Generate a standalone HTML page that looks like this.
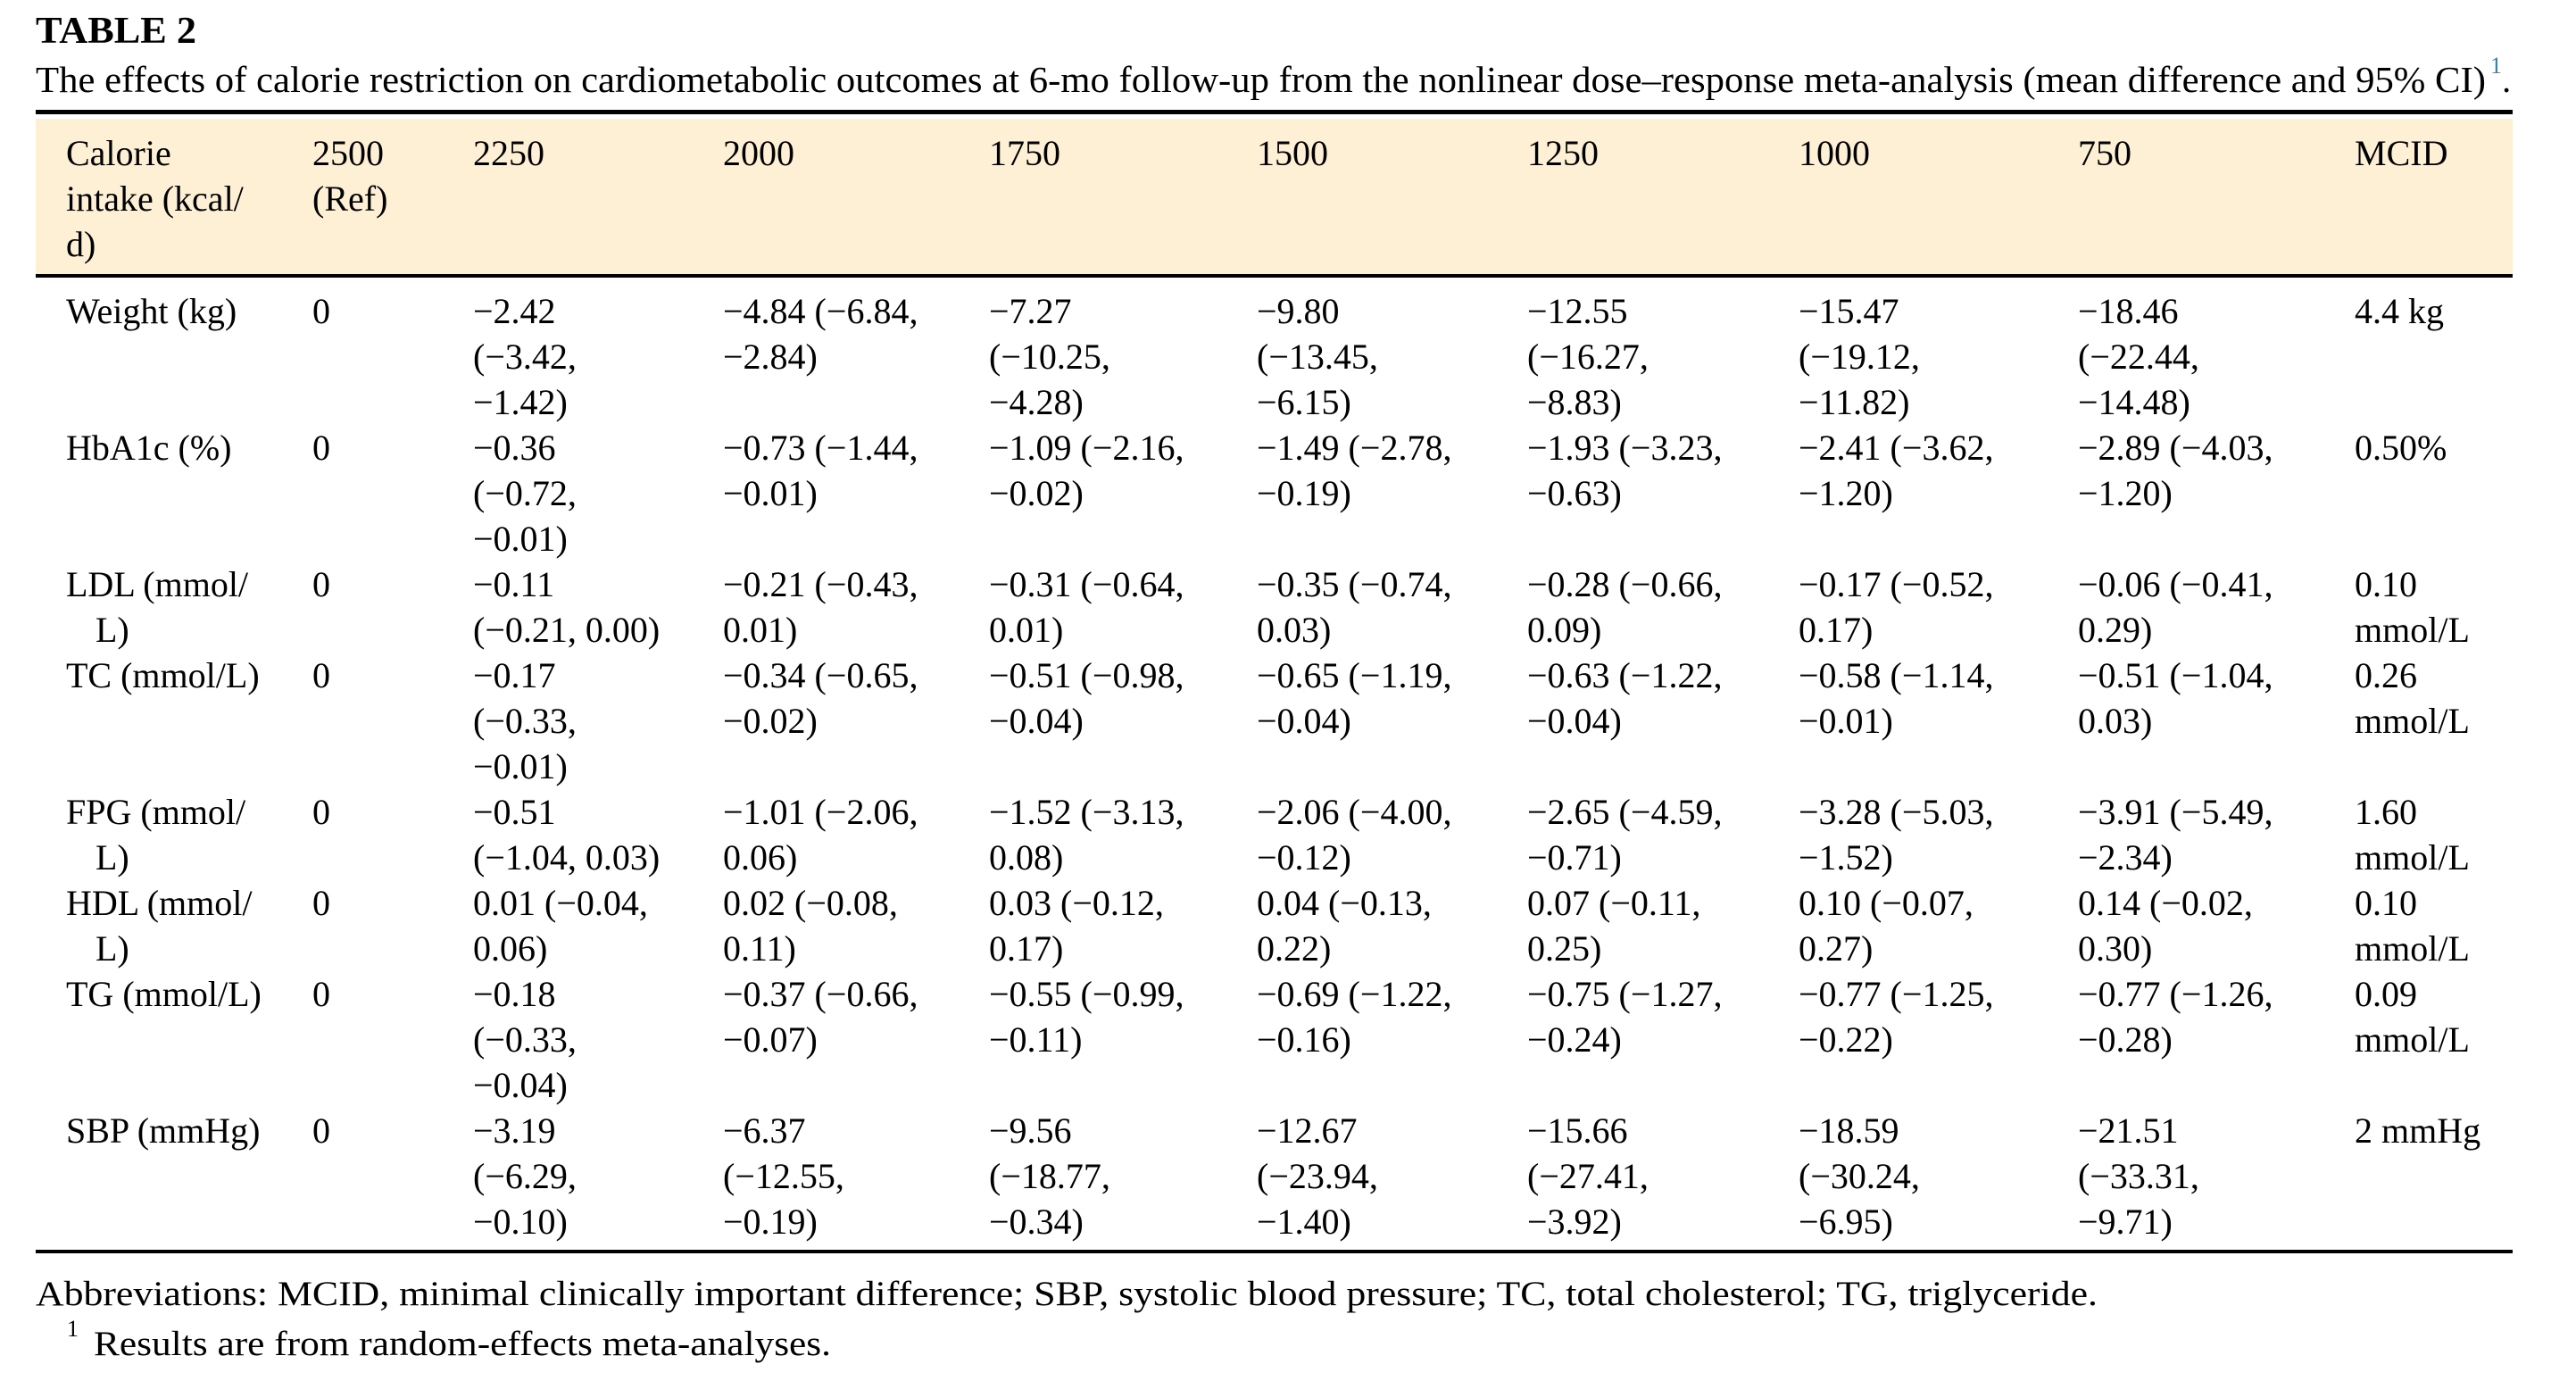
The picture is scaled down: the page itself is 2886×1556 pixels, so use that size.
<!DOCTYPE html>
<html><head><meta charset="utf-8"><style>
html,body{margin:0;padding:0;background:#fff;}
svg{display:block;}
text{font-family:"Liberation Serif",serif;fill:#000;}
.c{font-size:40px;}
</style></head><body>
<svg width="2886" height="1556" viewBox="0 0 2886 1556" xmlns="http://www.w3.org/2000/svg">
<text x="40" y="48" font-size="42" font-weight="bold" textLength="180" lengthAdjust="spacingAndGlyphs">TABLE 2</text>
<text x="40" y="103" font-size="41" textLength="2745" lengthAdjust="spacingAndGlyphs">The effects of calorie restriction on cardiometabolic outcomes at 6-mo follow-up from the nonlinear dose–response meta-analysis (mean difference and 95% CI)</text>
<text x="2790" y="82" font-size="26" style="fill:#2a86b5">1</text>
<text x="2803" y="103" font-size="41">.</text>
<rect x="40" y="123" width="2775" height="5" fill="#000"/>
<rect x="40" y="133" width="2775" height="174" fill="#fef0d5"/>
<rect x="40" y="307" width="2775" height="4" fill="#000"/>
<rect x="40" y="1400" width="2775" height="4" fill="#000"/>
<g class="c">
<text x="74" y="185">Calorie</text><text x="74" y="236">intake (kcal/</text><text x="74" y="287">d)</text>
<text x="350" y="185">2500</text><text x="350" y="236">(Ref)</text>
<text x="530" y="185">2250</text><text x="810" y="185">2000</text><text x="1108" y="185">1750</text>
<text x="1408" y="185">1500</text><text x="1711" y="185">1250</text><text x="2015" y="185">1000</text>
<text x="2328" y="185">750</text><text x="2638" y="185">MCID</text>

<text x="74" y="362">Weight (kg)</text><text x="350" y="362">0</text>
<text x="530" y="362">−2.42</text><text x="530" y="413">(−3.42,</text><text x="530" y="464">−1.42)</text>
<text x="810" y="362">−4.84 (−6.84,</text><text x="810" y="413">−2.84)</text>
<text x="1108" y="362">−7.27</text><text x="1108" y="413">(−10.25,</text><text x="1108" y="464">−4.28)</text>
<text x="1408" y="362">−9.80</text><text x="1408" y="413">(−13.45,</text><text x="1408" y="464">−6.15)</text>
<text x="1711" y="362">−12.55</text><text x="1711" y="413">(−16.27,</text><text x="1711" y="464">−8.83)</text>
<text x="2015" y="362">−15.47</text><text x="2015" y="413">(−19.12,</text><text x="2015" y="464">−11.82)</text>
<text x="2328" y="362">−18.46</text><text x="2328" y="413">(−22.44,</text><text x="2328" y="464">−14.48)</text>
<text x="2638" y="362">4.4 kg</text>

<text x="74" y="515">HbA1c (%)</text><text x="350" y="515">0</text>
<text x="530" y="515">−0.36</text><text x="530" y="566">(−0.72,</text><text x="530" y="617">−0.01)</text>
<text x="810" y="515">−0.73 (−1.44,</text><text x="810" y="566">−0.01)</text>
<text x="1108" y="515">−1.09 (−2.16,</text><text x="1108" y="566">−0.02)</text>
<text x="1408" y="515">−1.49 (−2.78,</text><text x="1408" y="566">−0.19)</text>
<text x="1711" y="515">−1.93 (−3.23,</text><text x="1711" y="566">−0.63)</text>
<text x="2015" y="515">−2.41 (−3.62,</text><text x="2015" y="566">−1.20)</text>
<text x="2328" y="515">−2.89 (−4.03,</text><text x="2328" y="566">−1.20)</text>
<text x="2638" y="515">0.50%</text>

<text x="74" y="668">LDL (mmol/</text><text x="107" y="719">L)</text><text x="350" y="668">0</text>
<text x="530" y="668">−0.11</text><text x="530" y="719">(−0.21, 0.00)</text>
<text x="810" y="668">−0.21 (−0.43,</text><text x="810" y="719">0.01)</text>
<text x="1108" y="668">−0.31 (−0.64,</text><text x="1108" y="719">0.01)</text>
<text x="1408" y="668">−0.35 (−0.74,</text><text x="1408" y="719">0.03)</text>
<text x="1711" y="668">−0.28 (−0.66,</text><text x="1711" y="719">0.09)</text>
<text x="2015" y="668">−0.17 (−0.52,</text><text x="2015" y="719">0.17)</text>
<text x="2328" y="668">−0.06 (−0.41,</text><text x="2328" y="719">0.29)</text>
<text x="2638" y="668">0.10</text><text x="2638" y="719">mmol/L</text>

<text x="74" y="770">TC (mmol/L)</text><text x="350" y="770">0</text>
<text x="530" y="770">−0.17</text><text x="530" y="821">(−0.33,</text><text x="530" y="872">−0.01)</text>
<text x="810" y="770">−0.34 (−0.65,</text><text x="810" y="821">−0.02)</text>
<text x="1108" y="770">−0.51 (−0.98,</text><text x="1108" y="821">−0.04)</text>
<text x="1408" y="770">−0.65 (−1.19,</text><text x="1408" y="821">−0.04)</text>
<text x="1711" y="770">−0.63 (−1.22,</text><text x="1711" y="821">−0.04)</text>
<text x="2015" y="770">−0.58 (−1.14,</text><text x="2015" y="821">−0.01)</text>
<text x="2328" y="770">−0.51 (−1.04,</text><text x="2328" y="821">0.03)</text>
<text x="2638" y="770">0.26</text><text x="2638" y="821">mmol/L</text>

<text x="74" y="923">FPG (mmol/</text><text x="107" y="974">L)</text><text x="350" y="923">0</text>
<text x="530" y="923">−0.51</text><text x="530" y="974">(−1.04, 0.03)</text>
<text x="810" y="923">−1.01 (−2.06,</text><text x="810" y="974">0.06)</text>
<text x="1108" y="923">−1.52 (−3.13,</text><text x="1108" y="974">0.08)</text>
<text x="1408" y="923">−2.06 (−4.00,</text><text x="1408" y="974">−0.12)</text>
<text x="1711" y="923">−2.65 (−4.59,</text><text x="1711" y="974">−0.71)</text>
<text x="2015" y="923">−3.28 (−5.03,</text><text x="2015" y="974">−1.52)</text>
<text x="2328" y="923">−3.91 (−5.49,</text><text x="2328" y="974">−2.34)</text>
<text x="2638" y="923">1.60</text><text x="2638" y="974">mmol/L</text>

<text x="74" y="1025">HDL (mmol/</text><text x="107" y="1076">L)</text><text x="350" y="1025">0</text>
<text x="530" y="1025">0.01 (−0.04,</text><text x="530" y="1076">0.06)</text>
<text x="810" y="1025">0.02 (−0.08,</text><text x="810" y="1076">0.11)</text>
<text x="1108" y="1025">0.03 (−0.12,</text><text x="1108" y="1076">0.17)</text>
<text x="1408" y="1025">0.04 (−0.13,</text><text x="1408" y="1076">0.22)</text>
<text x="1711" y="1025">0.07 (−0.11,</text><text x="1711" y="1076">0.25)</text>
<text x="2015" y="1025">0.10 (−0.07,</text><text x="2015" y="1076">0.27)</text>
<text x="2328" y="1025">0.14 (−0.02,</text><text x="2328" y="1076">0.30)</text>
<text x="2638" y="1025">0.10</text><text x="2638" y="1076">mmol/L</text>

<text x="74" y="1127">TG (mmol/L)</text><text x="350" y="1127">0</text>
<text x="530" y="1127">−0.18</text><text x="530" y="1178">(−0.33,</text><text x="530" y="1229">−0.04)</text>
<text x="810" y="1127">−0.37 (−0.66,</text><text x="810" y="1178">−0.07)</text>
<text x="1108" y="1127">−0.55 (−0.99,</text><text x="1108" y="1178">−0.11)</text>
<text x="1408" y="1127">−0.69 (−1.22,</text><text x="1408" y="1178">−0.16)</text>
<text x="1711" y="1127">−0.75 (−1.27,</text><text x="1711" y="1178">−0.24)</text>
<text x="2015" y="1127">−0.77 (−1.25,</text><text x="2015" y="1178">−0.22)</text>
<text x="2328" y="1127">−0.77 (−1.26,</text><text x="2328" y="1178">−0.28)</text>
<text x="2638" y="1127">0.09</text><text x="2638" y="1178">mmol/L</text>

<text x="74" y="1280">SBP (mmHg)</text><text x="350" y="1280">0</text>
<text x="530" y="1280">−3.19</text><text x="530" y="1331">(−6.29,</text><text x="530" y="1382">−0.10)</text>
<text x="810" y="1280">−6.37</text><text x="810" y="1331">(−12.55,</text><text x="810" y="1382">−0.19)</text>
<text x="1108" y="1280">−9.56</text><text x="1108" y="1331">(−18.77,</text><text x="1108" y="1382">−0.34)</text>
<text x="1408" y="1280">−12.67</text><text x="1408" y="1331">(−23.94,</text><text x="1408" y="1382">−1.40)</text>
<text x="1711" y="1280">−15.66</text><text x="1711" y="1331">(−27.41,</text><text x="1711" y="1382">−3.92)</text>
<text x="2015" y="1280">−18.59</text><text x="2015" y="1331">(−30.24,</text><text x="2015" y="1382">−6.95)</text>
<text x="2328" y="1280">−21.51</text><text x="2328" y="1331">(−33.31,</text><text x="2328" y="1382">−9.71)</text>
<text x="2638" y="1280">2 mmHg</text>
</g>
<text x="40" y="1462" font-size="39" textLength="2310" lengthAdjust="spacingAndGlyphs">Abbreviations: MCID, minimal clinically important difference; SBP, systolic blood pressure; TC, total cholesterol; TG, triglyceride.</text>
<text x="75" y="1497" font-size="26">1</text>
<text x="105" y="1518" font-size="39" textLength="826" lengthAdjust="spacingAndGlyphs">Results are from random-effects meta-analyses.</text>
</svg>
</body></html>
